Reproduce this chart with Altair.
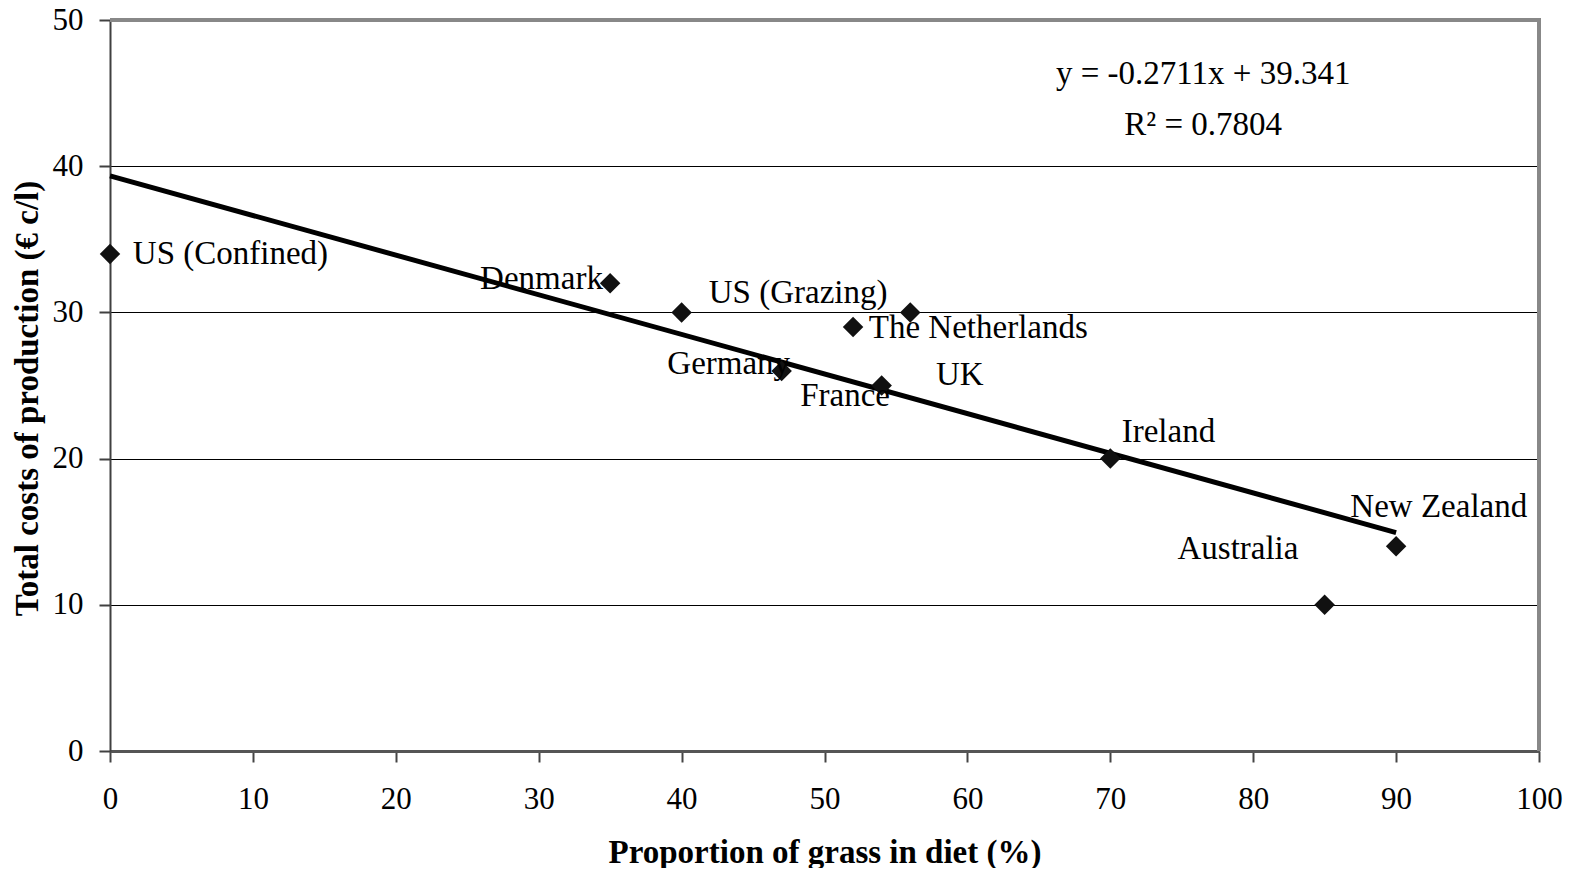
import altair as alt
import pandas as pd

# ---- data ----
countries = ["US (Confined)", "Denmark", "US (Grazing)", "The Netherlands", "UK",
             "Germany", "France", "Ireland", "Australia", "New Zealand"]
grass_pct = [0, 35, 40, 52, 56, 47, 54, 70, 85, 90]
cost = [34, 32, 30, 29, 30, 26, 25, 20, 10, 14]

# label anchor positions (data units, left edge of text)
label_names = ["US (Confined)", "Denmark", "US (Grazing)", "The Netherlands", "Germany",
               "France", "UK", "Ireland", "New Zealand", "Australia"]
label_x = [1.6, 25.9, 41.9, 53.1, 39.0, 48.3, 57.8, 70.8, 86.8, 74.7]
label_y = [34.0, 32.3, 31.3, 28.9, 26.5, 24.3, 25.7, 21.8, 16.7, 13.85]

eq_text = ["y = -0.2711x + 39.341", "R\u00b2 = 0.7804"]
eq_x = [76.5, 76.5]
eq_y = [46.3, 42.8]

x_ticks = list(range(0, 101, 10))
y_ticks = list(range(0, 51, 10))

FONT = "Liberation Serif"
W, H = 1429, 731

pts = pd.DataFrame({"country": countries, "x": grass_pct, "y": cost})
labs = pd.DataFrame({"name": label_names, "lx": label_x, "ly": label_y})
eqs = pd.DataFrame({"t": eq_text, "ex": eq_x, "ey": eq_y})

xscale = alt.Scale(domain=[0, 100], nice=False, zero=False)
yscale = alt.Scale(domain=[0, 50], nice=False, zero=False)

xaxis = alt.Axis(values=x_ticks, title="Proportion of grass in diet (%)", grid=False,
                 domainColor="#555555", domainWidth=3, tickColor="#444444", tickWidth=2,
                 tickSize=11, labelPadding=22, labelFontSize=31, labelFont=FONT,
                 labelColor="black", labelFlush=False, labelOverlap=False,
                 titleFont=FONT, titleFontSize=33, titleFontWeight="bold",
                 titleColor="black", titleX=W / 2, titleY=101, titleBaseline="middle",
                 titleAnchor="middle")
yaxis = alt.Axis(values=y_ticks, title="Total costs of production (\u20ac c/l)", grid=True,
                 gridColor="black", gridWidth=1.2, domainColor="#404040", domainWidth=2,
                 tickColor="#404040", tickWidth=2, tickSize=11, labelPadding=16,
                 labelFontSize=31, labelFont=FONT, labelColor="black", labelFlush=False,
                 labelOverlap=False, titleFont=FONT,
                 titleFontSize=33, titleFontWeight="bold", titleColor="black",
                 titleAngle=270, titleX=-83, titleY=378, titleBaseline="middle",
                 titleAlign="center")

base = alt.Chart(pts)

line = base.transform_regression("x", "y").mark_line(color="black", strokeWidth=5).encode(
    x=alt.X("x:Q", scale=xscale, axis=xaxis),
    y=alt.Y("y:Q", scale=yscale, axis=yaxis),
)

points = base.mark_point(shape="diamond", filled=True, size=420, color="#111111", opacity=1).encode(
    x=alt.X("x:Q", scale=xscale),
    y=alt.Y("y:Q", scale=yscale),
)

labels = alt.Chart(labs).mark_text(align="left", baseline="middle", font=FONT, fontSize=33,
                                   color="black").encode(
    x=alt.X("lx:Q", scale=xscale),
    y=alt.Y("ly:Q", scale=yscale),
    text="name:N",
)

eq = alt.Chart(eqs).mark_text(align="center", baseline="middle", font=FONT, fontSize=33,
                              color="black").encode(
    x=alt.X("ex:Q", scale=xscale),
    y=alt.Y("ey:Q", scale=yscale),
    text="t:N",
)

one = pd.DataFrame({"v": [0]})
top_border = alt.Chart(one).mark_rule(color="#888888", strokeWidth=4).encode(
    x=alt.value(0), x2=alt.value(W + 2), y=alt.value(0))
right_border = alt.Chart(one).mark_rule(color="#888888", strokeWidth=4).encode(
    x=alt.value(W), y=alt.value(-2), y2=alt.value(H))

chart = alt.layer(line, points, labels, eq, top_border, right_border).properties(
    width=W, height=H,
    autosize=alt.AutoSizeParams(type="none"),
    padding={"left": 102, "top": 12, "right": 25, "bottom": 117},
).configure_view(stroke=None).configure(background="white")

chart.save("out.html", embed_options={"renderer": "svg", "actions": False})
